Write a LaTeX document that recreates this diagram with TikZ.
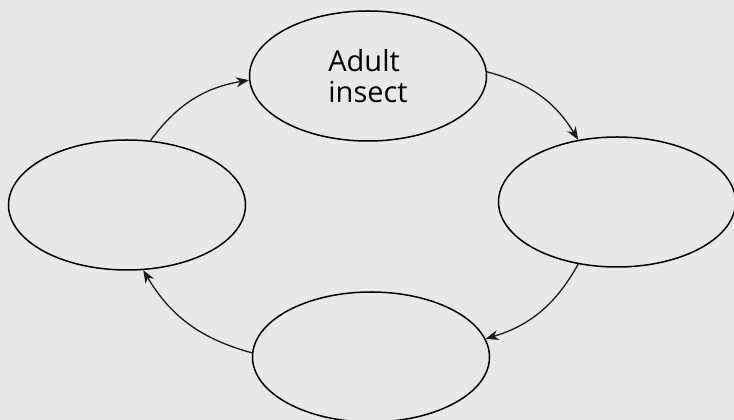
\documentclass[tikz,border=0pt]{standalone}
\usepackage{fontspec}
\setsansfont{Open Sans}
\usetikzlibrary{arrows.meta, shapes.geometric}
\definecolor{paper}{gray}{0.91}

\begin{document}
\begin{tikzpicture}[x=1pt, y=1pt,
            stage/.style={ellipse, draw=black, line width=1.5pt,
                          minimum width=237pt, minimum height=130pt,
                          inner sep=0pt, align=left,
                          font=\sffamily\fontsize{29}{31}\selectfont},
            arr/.style={-{Stealth[length=13pt, width=10pt]}, line width=1.3pt,
                        black!90, bend left=22}]
          \fill[paper] (0,0) rectangle (734,420);
          \useasboundingbox (0,0) rectangle (734,420);
          \node[stage] (adult) at (368,344) {Adult\\ insect};
          \node[stage] (right) at (617,218) {};
          \node[stage] (bottom) at (371,63) {};
          \node[stage] (left) at (127,215) {};
          \draw[arr] (left.70) to (adult.182);
          \draw[arr] (adult.2) to (right.122);
          \draw[arr] (right.238) to (bottom.9);
          \draw[arr] (bottom.178) to (left.284);
        \end{tikzpicture}
\end{document}
